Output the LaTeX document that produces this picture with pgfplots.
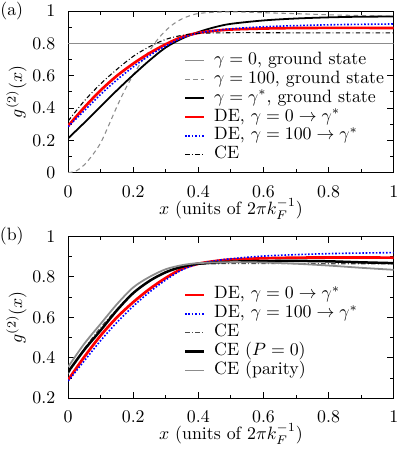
\documentclass[border=0pt]{standalone}
\usepackage{pgfplots}
\pgfplotsset{compat=1.18}

% curves
\pgfplotstableread{
x      y
0      0.29
0.05   0.405
0.1    0.51
0.15   0.60
0.2    0.675
0.25   0.74
0.3    0.795
0.35   0.84
0.4    0.865
0.45   0.878
0.5    0.886
0.6    0.892
0.7    0.895
0.8    0.896
0.9    0.896
1      0.895
}\deZero
\pgfplotstableread{
x      y
0      0.285
0.05   0.385
0.1    0.485
0.15   0.575
0.2    0.655
0.25   0.725
0.3    0.785
0.35   0.835
0.4    0.864
0.45   0.879
0.5    0.89
0.6    0.903
0.7    0.91
0.8    0.915
0.9    0.918
1      0.92
}\deHundred
\pgfplotstableread{
x      y
0      0.32
0.05   0.445
0.1    0.55
0.15   0.64
0.2    0.72
0.25   0.78
0.3    0.825
0.35   0.85
0.4    0.862
0.5    0.866
0.6    0.866
0.8    0.865
1      0.865
}\ce

\pgfplotsset{
  gpanel/.style={
    scale only axis,
    width=182.6pt, height=90.7pt,
    xmin=0, xmax=1,
    xtick={0,0.2,0.4,0.6,0.8,1},
    minor xtick={0.1,0.3,0.5,0.7,0.9},
    tick align=inside,
    major tick length=3.5pt,
    minor tick length=2pt,
    tick style={black, line width=0.5pt},
    axis line style={line width=0.6pt},
    xticklabel style={inner sep=0pt, yshift=-7.2pt},
    yticklabel style={inner sep=0pt, xshift=-7pt},
    legend cell align=left,
    legend image code/.code={\draw[##1] (0pt,0pt) -- (10.7pt,0pt);},
    legend style={draw=none, fill=none, anchor=north west, inner sep=0pt,
      row sep=1pt, column sep=4.5pt,
      nodes={text height=6.6pt, text depth=2.2pt, inner sep=0.4pt}},
  },
}

\begin{document}
\begin{tikzpicture}
\begin{axis}[gpanel, name=pa, at={(0pt,0pt)}, anchor=north west,
  ymin=0, ymax=1,
  ytick={0,0.2,0.4,0.6,0.8,1},
  minor ytick={0.1,0.3,0.5,0.7,0.9},
  legend style={at={(0.354,0.75)}}]
\addplot[black!45, line width=0.7pt] coordinates {(0,0.8) (1,0.8)};
\addlegendentry{{$\gamma=0$, ground state}}
\addplot[black!45, line width=0.6pt, dash pattern=on 2.5pt off 2pt, smooth] coordinates {
(0,0) (0.025,0.012) (0.05,0.05) (0.075,0.11) (0.1,0.185) (0.125,0.295)
(0.15,0.41) (0.175,0.515) (0.2,0.605) (0.225,0.685) (0.25,0.755)
(0.275,0.825) (0.3,0.88) (0.325,0.922) (0.35,0.952) (0.375,0.972)
(0.4,0.985) (0.45,0.993) (0.5,0.995) (0.55,0.993) (0.6,0.99)
(0.7,0.984) (0.8,0.977) (0.9,0.972) (1,0.968)};
\addlegendentry{{$\gamma=100$, ground state}}
\addplot[black, line width=1pt, smooth] coordinates {
(0,0.213) (0.05,0.31) (0.1,0.41) (0.15,0.51) (0.2,0.605) (0.25,0.695)
(0.3,0.775) (0.35,0.83) (0.4,0.87) (0.45,0.9) (0.5,0.921) (0.6,0.942)
(0.7,0.954) (0.8,0.961) (0.9,0.965) (1,0.966)};
\addlegendentry{{$\gamma=\gamma^*$, ground state}}
\addplot[red, line width=1.5pt, smooth] table {\deZero};
\addlegendentry{{DE, $\gamma=0\rightarrow\gamma^*$}}
\addplot[blue, line width=0.9pt, densely dotted, smooth] table {\deHundred};
\addlegendentry{{DE, $\gamma=100\rightarrow\gamma^*$}}
\addplot[black, line width=0.6pt, dash pattern=on 2.5pt off 1.3pt on 0.5pt off 1.3pt, smooth] table {\ce};
\addlegendentry{CE}
\end{axis}
\node at ([xshift=-31.6pt]pa.north west) {(a)};
\node at ([yshift=-20.2pt]pa.south) {$x$ (units of $2\pi k_F^{-1}$)};
\node[rotate=90] at ([xshift=-29pt]pa.west) {$g^{(2)}(x)$};

\begin{axis}[gpanel, name=pb, at={(0pt,-126.4pt)}, anchor=north west,
  ymin=0.2, ymax=1,
  ytick={0.2,0.4,0.6,0.8,1},
  minor ytick={0.3,0.5,0.7,0.9},
  legend style={at={(0.354,0.694)}}]
\addplot[red, line width=1.5pt, smooth] table {\deZero};
\addlegendentry{{DE, $\gamma=0\rightarrow\gamma^*$}}
\addplot[blue, line width=0.9pt, densely dotted, smooth] table {\deHundred};
\addlegendentry{{DE, $\gamma=100\rightarrow\gamma^*$}}
\addplot[black!70, line width=0.6pt, dash pattern=on 2.5pt off 1.3pt on 0.5pt off 1.3pt, smooth] table {\ce};
\addlegendentry{CE}
\addplot[black, line width=1.4pt, smooth] coordinates {
(0,0.33) (0.05,0.44) (0.1,0.536) (0.15,0.635) (0.2,0.72) (0.25,0.78)
(0.3,0.823) (0.35,0.85) (0.4,0.865) (0.5,0.875) (0.6,0.878) (0.7,0.879)
(0.8,0.877) (0.9,0.872) (1,0.868)};
\addlegendentry{{CE ($P=0$)}}
\addplot[black!45, line width=1pt, smooth] coordinates {
(0,0.355) (0.05,0.47) (0.1,0.568) (0.15,0.665) (0.2,0.748) (0.25,0.8)
(0.3,0.838) (0.35,0.858) (0.4,0.868) (0.5,0.873) (0.6,0.871) (0.7,0.865)
(0.8,0.856) (0.9,0.845) (1,0.835)};
\addlegendentry{{CE (parity)}}
\end{axis}
\node at ([xshift=-31.6pt]pb.north west) {(b)};
\node at ([yshift=-20.2pt]pb.south) {$x$ (units of $2\pi k_F^{-1}$)};
\node[rotate=90] at ([xshift=-29pt]pb.west) {$g^{(2)}(x)$};

\pgfresetboundingbox
\path[use as bounding box] ([xshift=-38.2pt, yshift=6.2pt]pa.north west)
  rectangle ([xshift=3.4pt, yshift=-28.5pt]pb.south east);
\end{tikzpicture}
\end{document}
